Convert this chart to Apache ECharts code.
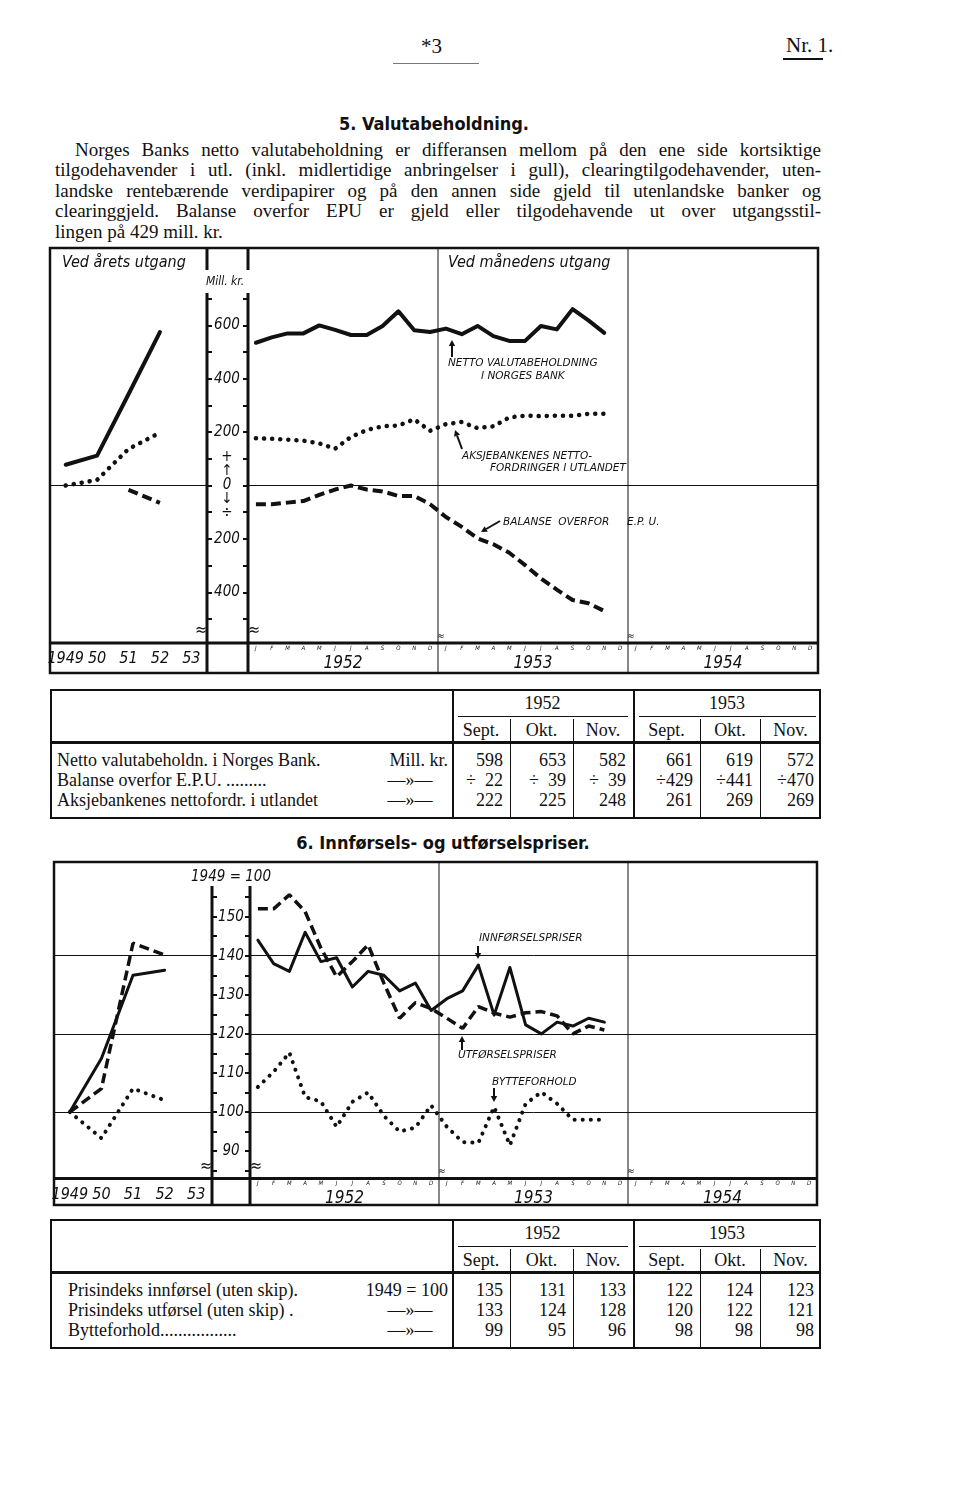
<!DOCTYPE html>
<html>
<head>
<meta charset="utf-8">
<script src="https://cdn.jsdelivr.net/npm/echarts@6/dist/echarts.min.js"></script>
<style>
  html, body { margin: 0; padding: 0; background: #fff; }
  body { width: 960px; height: 1490px; position: relative; font-family: "Liberation Serif", serif; color: #111; overflow: hidden; }
  .abs { position: absolute; white-space: nowrap; }
  .para { position: absolute; left: 55px; top: 140px; width: 766px; font-size: 19px; line-height: 20.4px; }
  .para div { text-align: justify; text-align-last: justify; white-space: nowrap; }
  .para div.last { text-align-last: left; }
  .head { font-family: "DejaVu Sans Condensed", "DejaVu Sans", sans-serif; font-stretch: condensed; font-weight: bold; font-size: 18px; }
  .rule { position: absolute; background: #111; }
  .cell { position: absolute; font-size: 18px; line-height: 22px; height: 22px; white-space: nowrap; }
  #valuta { position: absolute; left: 0; top: 240px; width: 960px; height: 440px; }
  #priser { position: absolute; left: 0; top: 855px; width: 960px; height: 360px; }
</style>
</head>
<body>
<div class="abs" style="left:421px;top:34px;font-size:21px;">*3</div>
<div class="rule" style="left:393px;top:63px;width:86px;height:1px;background:#777;"></div>
<div class="abs" style="left:786px;top:33px;font-size:21px;">Nr. 1.</div>
<div class="rule" style="left:783px;top:58px;width:40px;height:2px;"></div>

<div class="abs head" style="left:434px;top:113px;transform:translateX(-50%);">5. Valutabeholdning.</div>
<div class="para">
  <div style="padding-left:20px;">Norges Banks netto valutabeholdning er differansen mellom på den ene side kortsiktige</div>
  <div>tilgodehavender i utl. (inkl. midlertidige anbringelser i gull), clearingtilgodehavender, uten-</div>
  <div>landske rentebærende verdipapirer og på den annen side gjeld til utenlandske banker og</div>
  <div>clearinggjeld. Balanse overfor EPU er gjeld eller tilgodehavende ut over utgangsstil-</div>
  <div class="last">lingen på 429 mill. kr.</div>
</div>

<div id="valuta"></div>
<div class="abs head" style="left:443px;top:832px;transform:translateX(-50%);">6. Innførsels- og utførselspriser.</div>
<div id="priser"></div>

<script>
// --- categories
const yearCats = ['1949', '50', '51', '52', '53'];
const monthYears = ['1952', '1953', '1954'];
const monthLetters = ['J', 'F', 'M', 'A', 'M', 'J', 'J', 'A', 'S', 'O', 'N', 'D'];
const monthCats = monthYears.flatMap(y => monthLetters.map((m, i) => y + '-' + (i + 1)));

// --- valutabeholdning, mill. kr. (year end 1949-52, month end jan 1952 - nov 1953)
const nettoAar = [78, 112, 342, 575, null];
const aksjeAar = [0, 21, 137, 198, null];
const epuAar = [null, null, -16, -65, null];
const nettoMnd = [535, 555, 570, 570, 600, 583, 564, 564, 598, 653, 582, 575,
                  588, 567, 598, 560, 542, 542, 598, 585, 661, 619, 572];
const aksjeMnd = [177, 175, 172, 168, 158, 138, 182, 208, 222, 225, 248, 205,
                  230, 238, 215, 222, 255, 262, 260, 262, 261, 269, 269];
const epuMnd = [-70, -70, -64, -58, -35, -15, 0, -15, -22, -39, -39, -70,
                -118, -155, -198, -220, -252, -298, -348, -390, -429, -441, -470];
const valutaTicks = [-500, -400, -300, -200, -100, 0, 100, 200, 300, 400, 500, 600, 700];
const valutaLabels = [-400, -200, 0, 200, 400, 600];

// --- prisindekser, 1949 = 100
const innAar = [100, 113.7, 135, 136.3, null];
const utAar = [100, 106, 143.2, 140.2, null];
const bytteAar = [100, 93.3, 106, 103, null];
const innMnd = [144, 138, 136, 146, 138.5, 139.5, 132, 136, 135, 131, 133, 126,
                129, 131, 137.6, 124.8, 137, 122.3, 120, 123, 122, 124, 123];
const utMnd = [152, 152, 155.6, 151.3, 142, 134.6, 138.5, 142.8, 133, 124, 128, 126.5,
               124, 121.4, 127, 125.3, 124.3, 125.4, 125.7, 124.6, 120, 122, 121];
const bytteMnd = [106.4, 110.3, 115.2, 103.8, 102.7, 96.2, 102.6, 105, 99, 95, 96, 101.7,
                  96.2, 92.3, 92.1, 101.3, 91.5, 102.1, 105.1, 102.1, 98, 98, 98];
const prisTicks = [85, 90, 95, 100, 105, 110, 115, 120, 125, 130, 135, 140, 145, 150, 155];
const prisLabels = [90, 100, 110, 120, 130, 140, 150];
const prisGrid = [100, 120, 140];

// --- tables
const tableYears = ['1952', '1953'];
const tableMonths = ['Sept.', 'Okt.', 'Nov.'];
const valutaRowNames = ['Netto valutabeholdn. i Norges Bank.', 'Balanse overfor E.P.U. .........', 'Aksjebankenes nettofordr. i utlandet'];
const valutaUnits = ['Mill. kr.', '—»—', '—»—'];
const valutaTable = [
  [598, 653, 582, 661, 619, 572],
  [-22, -39, -39, -429, -441, -470],
  [222, 225, 248, 261, 269, 269],
];
const prisRowNames = ['Prisindeks innførsel (uten skip).', 'Prisindeks utførsel (uten skip)  .', 'Bytteforhold.................'];
const prisUnits = ['1949 = 100', '—»—', '—»—'];
const prisTable = [
  [135, 131, 133, 122, 124, 123],
  [133, 124, 128, 120, 122, 121],
  [99, 95, 96, 98, 98, 98],
];

const INK = '#111';
const HAND = '"DejaVu Sans Condensed", "DejaVu Sans"';
const NOTE = '"DejaVu Sans"';

function txt(text, x, y, size, align, family) {
  return {
    type: 'text', silent: true, z: 10,
    style: {
      text: text, x: x, y: y, fill: INK, font: 'italic ' + size + 'px ' + (family || HAND),
      textAlign: align || 'left', align: align || 'left',
      textVerticalAlign: 'middle', verticalAlign: 'middle',
    },
  };
}
function note(text, x, y) {
  return txt(text, x, y, 10.5, 'left', NOTE);
}
function seg(x1, y1, x2, y2, w) {
  return { type: 'line', silent: true, z: 10, shape: { x1, y1, x2, y2 }, style: { stroke: INK, lineWidth: w } };
}
function arrow(x1, y1, x2, y2) {
  const a = Math.atan2(y2 - y1, x2 - x1), h = 6, w = 3.2;
  const bx = x2 - h * Math.cos(a), by = y2 - h * Math.sin(a);
  return [
    seg(x1, y1, bx, by, 2),
    { type: 'polygon', silent: true, z: 10,
      shape: { points: [[x2, y2], [bx - w * Math.sin(a), by + w * Math.cos(a)], [bx + w * Math.sin(a), by - w * Math.cos(a)]] },
      style: { fill: INK } },
  ];
}

// g: layout of one diagram in its own div
function scaffold(g) {
  const hand = { color: INK, fontFamily: HAND, fontStyle: 'italic' };
  const tick = { show: true, customValues: g.ticks, length: 5, lineStyle: { color: INK, width: 2 } };
  return {
    animation: false,
    grid: [
      { left: g.left, top: g.top, width: g.axL - g.left, height: g.height },
      { left: g.axR, top: g.top, width: g.right - g.axR, height: g.height },
    ],
    xAxis: [
      { gridIndex: 0, type: 'category', data: yearCats, axisLine: { show: false },
        axisTick: { length: 5, lineStyle: { color: INK, width: 1.5 } },
        axisLabel: Object.assign({ fontSize: 16, margin: 8, interval: 0 }, hand) },
      { gridIndex: 1, type: 'category', data: monthCats, axisLine: { show: false },
        axisTick: { length: 7, lineStyle: { color: INK, width: 1 } },
        axisLabel: { interval: 0, fontSize: 6, margin: 2, color: INK, fontFamily: HAND, fontStyle: 'italic',
          formatter: v => monthLetters[+v.split('-')[1] - 1] } },
      { gridIndex: 1, type: 'category', data: monthYears, position: 'bottom', offset: 9,
        axisLine: { show: false }, axisTick: { show: false },
        axisLabel: Object.assign({ fontSize: 17, margin: 3 }, hand) },
    ],
    yAxis: [
      { gridIndex: 0, type: 'value', min: g.min, max: g.max, position: 'right',
        axisLine: { show: false }, splitLine: { show: false }, axisTick: tick, axisLabel: { show: false } },
      { gridIndex: 1, type: 'value', min: g.min, max: g.max, position: 'left',
        axisLine: { show: false }, splitLine: { show: false }, axisTick: tick,
        axisLabel: Object.assign({ customValues: g.labels, formatter: g.fmt, align: 'center',
          margin: g.labelMargin, fontSize: g.labelSize, lineHeight: 14 }, hand) },
    ],
  };
}

function frame(g) {
  const step = (g.right - g.axR) / 36;
  const b1 = g.axR + 12 * step, b2 = g.axR + 24 * step;
  const bottom = g.top + g.height;
  const els = [
    { type: 'rect', silent: true, z: 10, shape: { x: g.left, y: g.frameTop, width: g.right - g.left, height: g.frameBottom - g.frameTop },
      style: { fill: 'none', stroke: INK, lineWidth: 2.5 } },
    seg(g.left, bottom, g.right, bottom, 3),
    seg(b1, g.frameTop, b1, g.frameBottom, 1),
    seg(b2, g.frameTop, b2, g.frameBottom, 1),
    txt('≈', b1 + 3, bottom - 7, 10, 'center'),
    txt('≈', b2 + 3, bottom - 7, 10, 'center'),
    txt('≈', g.axL - 6, bottom - 12, 16, 'center'),
    txt('≈', g.axR + 6, bottom - 12, 16, 'center'),
  ];
  g.axisSpans.forEach(s => {
    els.push(seg(g.axL, s[0], g.axL, s[1], 3));
    els.push(seg(g.axR, s[0], g.axR, s[1], 3));
  });
  return els;
}

const SOLID = { type: 'solid', cap: 'round', join: 'round' };
const DOTTED = { type: [0.1, 8], cap: 'round' };
const DASHED = { type: [10, 5], cap: 'butt' };
function line(data, idx, style, width, extra) {
  return Object.assign({
    type: 'line', xAxisIndex: idx, yAxisIndex: idx, data: data, symbol: 'none', silent: true,
    lineStyle: Object.assign({ color: INK, width: width }, style),
  }, extra || {});
}
function refLines(values) {
  return { markLine: { silent: true, symbol: ['none', 'none'], label: { show: false },
    lineStyle: { color: INK, width: 1, type: 'solid' }, data: values.map(v => ({ yAxis: v })) } };
}

// ---------- Diagram 5: valutabeholdning
const gV = {
  left: 50, axL: 207, axR: 248, right: 818, top: 8, height: 395, min: -590, max: 890,
  frameTop: 8, frameBottom: 433, ticks: valutaTicks, labels: valutaLabels,
  labelMargin: 21, labelSize: 15, axisSpans: [[8, 30], [53, 433]],
  fmt: v => v === 0 ? '+\n↑\n0\n↓\n÷' : String(Math.abs(v)),
};
const valuta = echarts.init(document.getElementById('valuta'));
valuta.setOption(Object.assign(scaffold(gV), {
  series: [
    line(nettoAar, 0, SOLID, 4, refLines([0])),
    line(aksjeAar, 0, DOTTED, 4.5),
    line(epuAar, 0, DASHED, 4),
    line(nettoMnd, 1, SOLID, 4, refLines([0])),
    line(aksjeMnd, 1, DOTTED, 4.5),
    line(epuMnd, 1, DASHED, 4),
  ],
  graphic: { elements: frame(gV).concat([
    txt('Ved årets utgang', 62, 23, 16),
    txt('Ved månedens utgang', 448, 23, 16),
    txt('Mill. kr.', 225, 42, 12, 'center'),
    note('NETTO VALUTABEHOLDNING', 448, 123),
    note('I NORGES BANK', 481, 136),
    note('AKSJEBANKENES NETTO-', 462, 216),
    note('FORDRINGER I UTLANDET', 490, 228),
    note('BALANSE  OVERFOR', 503, 282),
    note('E.P. U.', 627, 282),
  ], arrow(452, 117, 452, 100), arrow(462, 209, 455, 190), arrow(500, 281, 481, 292)) },
}));

// ---------- Diagram 6: innførsels- og utførselspriser
const gP = {
  left: 54, axL: 212, axR: 250, right: 817, top: 7, height: 316.4, min: 83, max: 164,
  frameTop: 7, frameBottom: 350, ticks: prisTicks, labels: prisLabels,
  labelMargin: 19, labelSize: 15, axisSpans: [[31, 350]],
  fmt: v => String(v),
};
const priser = echarts.init(document.getElementById('priser'));
priser.setOption(Object.assign(scaffold(gP), {
  series: [
    line(innAar, 0, SOLID, 3, refLines(prisGrid)),
    line(utAar, 0, DASHED, 3.5),
    line(bytteAar, 0, DOTTED, 4),
    line(innMnd, 1, SOLID, 3, refLines(prisGrid)),
    line(utMnd, 1, DASHED, 3.5),
    line(bytteMnd, 1, DOTTED, 4),
  ],
  graphic: { elements: frame(gP).concat([
    txt('1949 = 100', 231, 22, 15, 'center'),
    note('INNFØRSELSPRISER', 479, 83),
    note('UTFØRSELSPRISER', 458, 200),
    note('BYTTEFORHOLD', 492, 227),
  ], arrow(478, 91, 478, 104), arrow(462, 195, 462, 181), arrow(494, 233, 494, 247)) },
}));

// ---------- tables
const tableCols = [452, 510, 573, 633, 700, 760, 821];
function addDiv(cls, style, text) {
  const el = document.createElement('div');
  el.className = cls;
  Object.assign(el.style, style);
  if (text !== undefined) el.textContent = text;
  document.body.appendChild(el);
  return el;
}
function fmtValue(v) {
  if (v >= 0) return String(v);
  const a = Math.abs(v);
  return '÷' + (a < 100 ? '\u2007' : '') + a;
}
function drawTable(top, labelX, names, units, rows) {
  const L = 50, R = 821, H = 130, c = tableCols;
  addDiv('rule', { left: L + 'px', top: top + 'px', width: (R - L) + 'px', height: H + 'px',
    background: 'none', border: '2px solid ' + INK, boxSizing: 'border-box' });
  addDiv('rule', { left: c[0] + 'px', top: top + 'px', width: '1.5px', height: H + 'px' });
  addDiv('rule', { left: c[3] + 'px', top: top + 'px', width: '1.5px', height: H + 'px' });
  [1, 2, 4, 5].forEach(i => addDiv('rule', { left: c[i] + 'px', top: (top + 30) + 'px', width: '1px', height: (H - 30) + 'px' }));
  addDiv('rule', { left: '458px', top: (top + 27) + 'px', width: '170px', height: '1px' });
  addDiv('rule', { left: '639px', top: (top + 27) + 'px', width: '177px', height: '1px' });
  addDiv('rule', { left: L + 'px', top: (top + 52) + 'px', width: (R - L) + 'px', height: '3px' });
  tableYears.forEach((y, k) => {
    const x0 = c[k * 3], x1 = c[k * 3 + 3];
    addDiv('cell', { left: x0 + 'px', width: (x1 - x0) + 'px', top: (top + 3) + 'px', textAlign: 'center' }, y);
    tableMonths.forEach((m, j) => {
      const a = c[k * 3 + j], b = c[k * 3 + j + 1];
      addDiv('cell', { left: a + 'px', width: (b - a) + 'px', top: (top + 30) + 'px', textAlign: 'center' }, m);
    });
  });
  rows.forEach((row, r) => {
    const y = top + 60 + r * 20;
    addDiv('cell', { left: labelX + 'px', top: y + 'px' }, names[r]);
    if (r === 0) addDiv('cell', { right: (960 - 448) + 'px', top: y + 'px' }, units[r]);
    else addDiv('cell', { left: '410px', top: y + 'px', transform: 'translateX(-50%)' }, units[r]);
    row.forEach((v, i) => {
      addDiv('cell', { left: c[i] + 'px', width: (c[i + 1] - c[i] - 7) + 'px', top: y + 'px', textAlign: 'right' }, fmtValue(v));
    });
  });
}
drawTable(689, 57, valutaRowNames, valutaUnits, valutaTable);
drawTable(1219, 68, prisRowNames, prisUnits, prisTable);
</script>
</body>
</html>
